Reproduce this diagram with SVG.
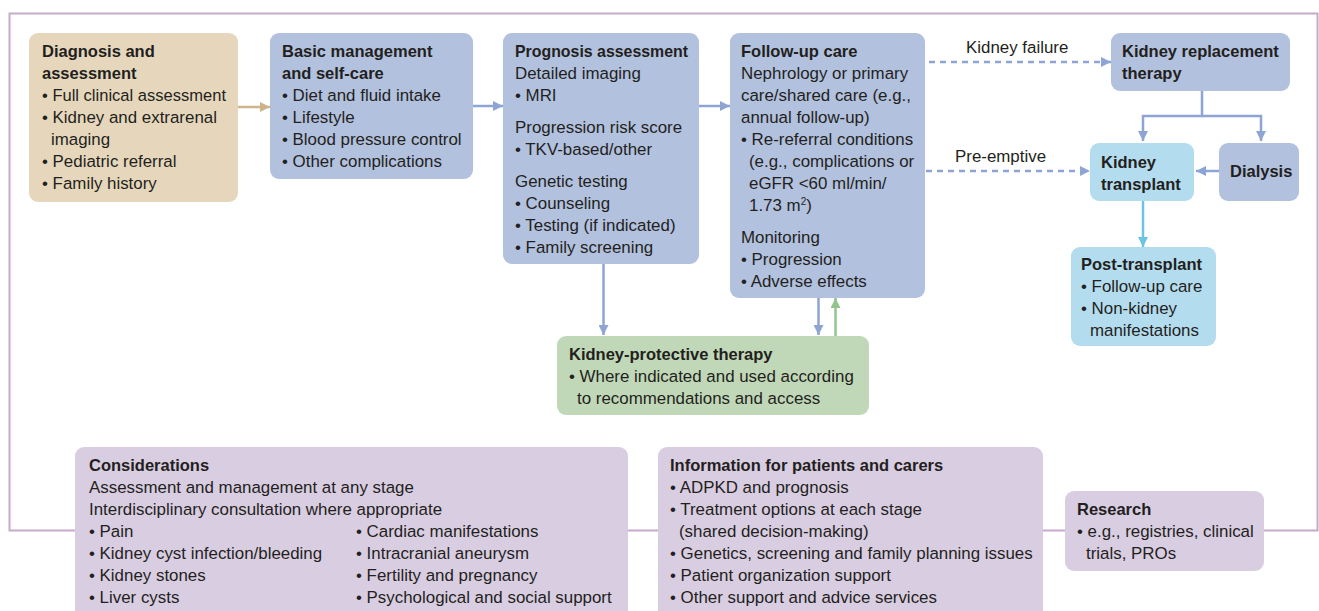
<svg xmlns="http://www.w3.org/2000/svg" width="1319" height="611" viewBox="0 0 1319 611">
<defs>
<style>
text{font-family:"Liberation Sans",Arial,sans-serif;font-size:16.9px;fill:#231f20}
.b{font-weight:bold;font-size:16.5px}
.tan{fill:#e6d7bc}
.blu{fill:#b2c1de}
.lb{fill:#b4dcef}
.grn{fill:#c0d8b7}
.pur{fill:#d9cde2}
.ln{fill:none;stroke:#8da4d4;stroke-width:2.5}
.dash{fill:none;stroke:#8da4d4;stroke-width:2.5;stroke-dasharray:6 5}
</style>
<marker id="aB" viewBox="0 0 10 10" refX="10" refY="5" markerWidth="10" markerHeight="10" markerUnits="userSpaceOnUse" orient="auto"><path d="M0,0 L10,5 L0,10 Z" fill="#8da4d4"/></marker>
<marker id="aT" viewBox="0 0 10 10" refX="10" refY="5" markerWidth="10" markerHeight="10" markerUnits="userSpaceOnUse" orient="auto"><path d="M0,0 L10,5 L0,10 Z" fill="#cdb48a"/></marker>
<marker id="aG" viewBox="0 0 10 10" refX="10" refY="5" markerWidth="10" markerHeight="10" markerUnits="userSpaceOnUse" orient="auto"><path d="M0,0 L10,5 L0,10 Z" fill="#93c48e"/></marker>
<marker id="aL" viewBox="0 0 10 10" refX="10" refY="5" markerWidth="10" markerHeight="10" markerUnits="userSpaceOnUse" orient="auto"><path d="M0,0 L10,5 L0,10 Z" fill="#6dc3e6"/></marker>
</defs>
<rect width="1319" height="611" fill="#fff"/>
<rect id="frame" x="9.5" y="13.5" width="1308" height="517" fill="none" stroke="#c6a9cb" stroke-width="2"/>
<g id="connectors">
<line x1="238" y1="107" x2="270" y2="107" stroke="#cdb48a" stroke-width="2.5" marker-end="url(#aT)"/>
<line class="ln" x1="473" y1="106" x2="503" y2="106" marker-end="url(#aB)"/>
<line class="ln" x1="699" y1="106" x2="730" y2="106" marker-end="url(#aB)"/>
<line class="dash" x1="929" y1="62" x2="1111" y2="62" marker-end="url(#aB)"/>
<line class="dash" x1="926" y1="171" x2="1090" y2="171" marker-end="url(#aB)"/>
<polyline class="ln" points="1202,91 1202,116 1143,116 1143,141" marker-end="url(#aB)"/>
<polyline class="ln" points="1202,116 1261,116 1261,141" marker-end="url(#aB)"/>
<line class="ln" x1="1219" y1="171" x2="1196" y2="171" marker-end="url(#aB)"/>
<line x1="1143" y1="201" x2="1143" y2="247" stroke="#6dc3e6" stroke-width="2.5" marker-end="url(#aL)"/>
<line class="ln" x1="603.5" y1="264" x2="603.5" y2="335" marker-end="url(#aB)"/>
<line class="ln" x1="818.5" y1="298" x2="818.5" y2="335" marker-end="url(#aB)"/>
<line x1="835.5" y1="336" x2="835.5" y2="298" stroke="#93c48e" stroke-width="2.5" marker-end="url(#aG)"/>
<text x="966" y="53">Kidney failure</text>
<text x="955" y="162">Pre-emptive</text>
</g>
<g id="diagnosis">
<rect class="tan" x="29" y="33" width="209" height="169" rx="9"/>
<text class="b" x="42" y="57">Diagnosis and</text>
<text class="b" x="42" y="79">assessment</text>
<text x="42" y="101" textLength="184" lengthAdjust="spacingAndGlyphs">• Full clinical assessment</text>
<text x="42" y="123">• Kidney and extrarenal</text>
<text x="51" y="145">imaging</text>
<text x="42" y="167">• Pediatric referral</text>
<text x="42" y="189">• Family history</text>
</g>
<g id="basic">
<rect class="blu" x="270" y="33" width="203" height="146" rx="9"/>
<text class="b" x="282" y="57">Basic management</text>
<text class="b" x="282" y="79">and self-care</text>
<text x="282" y="101">• Diet and fluid intake</text>
<text x="282" y="123">• Lifestyle</text>
<text x="282" y="145">• Blood pressure control</text>
<text x="282" y="167">• Other complications</text>
</g>
<g id="prognosis">
<rect class="blu" x="503" y="33" width="196" height="231" rx="9"/>
<text class="b" x="515" y="57" textLength="173" lengthAdjust="spacingAndGlyphs">Prognosis assessment</text>
<text x="515" y="79">Detailed imaging</text>
<text x="515" y="101">• MRI</text>
<text x="515" y="133">Progression risk score</text>
<text x="515" y="155">• TKV-based/other</text>
<text x="515" y="187">Genetic testing</text>
<text x="515" y="209">• Counseling</text>
<text x="515" y="231">• Testing (if indicated)</text>
<text x="515" y="253">• Family screening</text>
</g>
<g id="followup">
<rect class="blu" x="730" y="33" width="195" height="265" rx="9"/>
<text class="b" x="741" y="57">Follow-up care</text>
<text x="741" y="79">Nephrology or primary</text>
<text x="741" y="101">care/shared care (e.g.,</text>
<text x="741" y="123">annual follow-up)</text>
<text x="741" y="145">• Re-referral conditions</text>
<text x="749" y="167">(e.g., complications or</text>
<text x="749" y="189">eGFR &lt;60 ml/min/</text>
<text x="749" y="211">1.73 m<tspan font-size="10" dy="-6">2</tspan><tspan dy="6">)</tspan></text>
<text x="741" y="243">Monitoring</text>
<text x="741" y="265">• Progression</text>
<text x="741" y="287">• Adverse effects</text>
</g>
<g id="krt">
<rect class="blu" x="1111" y="33" width="179" height="58" rx="9"/>
<text class="b" x="1122" y="57">Kidney replacement</text>
<text class="b" x="1122" y="79">therapy</text>
</g>
<g id="transplant">
<rect class="lb" x="1090" y="143" width="104" height="58" rx="9"/>
<text class="b" x="1101" y="168">Kidney</text>
<text class="b" x="1101" y="190">transplant</text>
</g>
<g id="dialysis">
<rect class="blu" x="1219" y="143" width="80" height="58" rx="9"/>
<text class="b" x="1230" y="177">Dialysis</text>
</g>
<g id="posttransplant">
<rect class="lb" x="1071" y="247" width="145" height="99" rx="9"/>
<text class="b" x="1081" y="270">Post-transplant</text>
<text x="1081" y="292">• Follow-up care</text>
<text x="1081" y="314">• Non-kidney</text>
<text x="1090" y="336">manifestations</text>
</g>
<g id="protective">
<rect class="grn" x="557" y="336" width="312" height="79" rx="9"/>
<text class="b" x="569" y="360">Kidney-protective therapy</text>
<text x="569" y="382">• Where indicated and used according</text>
<text x="577" y="404">to recommendations and access</text>
</g>
<g id="considerations">
<rect class="pur" x="75" y="447" width="553" height="174" rx="9"/>
<text class="b" x="89" y="471">Considerations</text>
<text x="89" y="493">Assessment and management at any stage</text>
<text x="89" y="515">Interdisciplinary consultation where appropriate</text>
<text x="89" y="537">• Pain</text>
<text x="89" y="559">• Kidney cyst infection/bleeding</text>
<text x="89" y="581">• Kidney stones</text>
<text x="89" y="603">• Liver cysts</text>
<text x="356" y="537">• Cardiac manifestations</text>
<text x="356" y="559">• Intracranial aneurysm</text>
<text x="356" y="581">• Fertility and pregnancy</text>
<text x="356" y="603">• Psychological and social support</text>
</g>
<g id="information">
<rect class="pur" x="658" y="447" width="385" height="174" rx="9"/>
<text class="b" x="670" y="471">Information for patients and carers</text>
<text x="670" y="493">• ADPKD and prognosis</text>
<text x="670" y="515">• Treatment options at each stage</text>
<text x="679" y="537">(shared decision-making)</text>
<text x="670" y="559">• Genetics, screening and family planning issues</text>
<text x="670" y="581">• Patient organization support</text>
<text x="670" y="603">• Other support and advice services</text>
</g>
<g id="research">
<rect class="pur" x="1065" y="491" width="199" height="80" rx="9"/>
<text class="b" x="1077" y="515">Research</text>
<text x="1077" y="537">• e.g., registries, clinical</text>
<text x="1086" y="559">trials, PROs</text>
</g>
</svg>
